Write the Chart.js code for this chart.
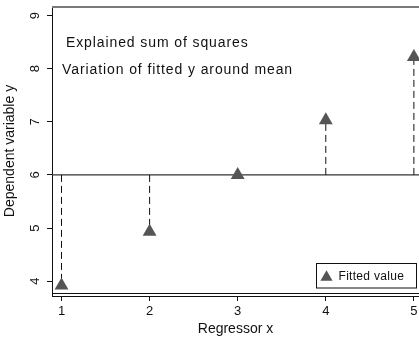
<!DOCTYPE html>
<html>
<head>
<meta charset="utf-8">
<script src="https://cdn.jsdelivr.net/npm/chart.js@4"></script>
<style>
  html, body { margin: 0; padding: 0; background: #fff; }
  #wrap { width: 419px; height: 339px; position: relative; }
</style>
</head>
<body>
<div id="wrap"><canvas id="c" width="419" height="339"></canvas></div>
<script>
// ---- data ----
const categories = [1, 2, 3, 4, 5];
const fittedValues = [3.92, 4.93, 6.0, 7.03, 8.22];
const meanY = 6;
const xTickValues = [1, 2, 3, 4, 5];
const yTickValues = [4, 5, 6, 7, 8, 9];
const seriesLabel = 'Fitted value';
const xTitle = 'Regressor x';
const yTitle = 'Dependent variable y';
const noteLines = ['Explained sum of squares', 'Variation of fitted y around mean'];

// ---- scale ranges ----
const X_MIN = 0.892, X_MAX = 5.058;
const Y_MIN = 3.72, Y_MAX = 9.18;

const FONT = '"Liberation Sans", Arial, sans-serif';
const MARK = '#555555';

const datasets = [];
datasets.push({
  type: 'line',
  label: 'mean',
  data: [{x: X_MIN, y: meanY}, {x: X_MAX, y: meanY}],
  borderColor: '#333333',
  borderWidth: 1.2,
  pointRadius: 0,
  fill: false,
  order: 3
});
categories.forEach((c, i) => {
  datasets.push({
    type: 'line',
    label: 'seg' + c,
    data: [{x: c, y: meanY}, {x: c, y: fittedValues[i]}],
    borderColor: '#111111',
    borderWidth: 1,
    borderDash: [7, 4],
    pointRadius: 0,
    fill: false,
    order: 2
  });
});
datasets.push({
  type: 'scatter',
  label: seriesLabel,
  data: categories.map((c, i) => ({x: c, y: fittedValues[i]})),
  pointStyle: 'triangle',
  pointRadius: 8,
  pointHoverRadius: 8,
  backgroundColor: MARK,
  borderColor: MARK,
  borderWidth: 0,
  clip: false,
  order: 1
});

const decorPlugin = {
  id: 'decor',
  beforeDatasetsDraw(chart) {
    const {ctx, chartArea: a} = chart;
    ctx.save();
    ctx.strokeStyle = '#7a7a7a';
    ctx.lineWidth = 2;
    ctx.beginPath();
    ctx.moveTo(a.left, a.top + 1);
    ctx.lineTo(a.right, a.top + 1);
    ctx.stroke();
    ctx.strokeStyle = '#111';
    ctx.lineWidth = 1;
    ctx.beginPath();
    ctx.moveTo(a.left, a.bottom - 2.5);
    ctx.lineTo(a.right, a.bottom - 2.5);
    ctx.stroke();
    ctx.restore();
  },
  afterDraw(chart) {
    const {ctx, scales} = chart;
    const xs = scales.x, ys = scales.y;
    ctx.save();
    ctx.fillStyle = '#111';
    ctx.font = '13px ' + FONT;
    ctx.textAlign = 'center';
    ctx.textBaseline = 'middle';
    ys.ticks.forEach(t => {
      const py = ys.getPixelForValue(t.value);
      ctx.save();
      ctx.translate(35, py);
      ctx.rotate(-Math.PI / 2);
      ctx.fillText(String(t.value), 0, 0);
      ctx.restore();
    });
    ctx.font = '14px ' + FONT;
    ctx.letterSpacing = '0.9px';
    ctx.textAlign = 'left';
    ctx.textBaseline = 'middle';
    ctx.fillText(noteLines[0], xs.getPixelForValue(1.05), ys.getPixelForValue(8.49));
    ctx.fillText(noteLines[1], xs.getPixelForValue(1.006), ys.getPixelForValue(7.98));
    ctx.letterSpacing = '0px';
    const ds = chart.data.datasets.find(d => d.label === seriesLabel);
    const bx = 316.5, by = 263.5, bw = 100, bh = 24.5;
    ctx.fillStyle = '#fff';
    ctx.fillRect(bx, by, bw, bh);
    ctx.strokeStyle = '#111';
    ctx.lineWidth = 1;
    ctx.strokeRect(bx, by, bw, bh);
    const cx = bx + 10, cy = by + bh / 2 + 1.5, r = 7;
    ctx.fillStyle = ds.backgroundColor;
    ctx.beginPath();
    ctx.moveTo(cx, cy - r);
    ctx.lineTo(cx + r * Math.sin(2 * Math.PI / 3), cy - r * Math.cos(2 * Math.PI / 3));
    ctx.lineTo(cx + r * Math.sin(4 * Math.PI / 3), cy - r * Math.cos(4 * Math.PI / 3));
    ctx.closePath();
    ctx.fill();
    ctx.fillStyle = '#111';
    ctx.font = '12px ' + FONT;
    ctx.letterSpacing = '0.3px';
    ctx.textAlign = 'left';
    ctx.textBaseline = 'middle';
    ctx.fillText(ds.label, bx + 22, by + bh / 2 + 0.5);
    ctx.restore();
  }
};

new Chart(document.getElementById('c'), {
  type: 'scatter',
  data: { datasets },
  options: {
    responsive: false,
    animation: false,
    events: [],
    layout: { autoPadding: false, padding: { top: 6, right: 0, left: 0, bottom: 0 } },
    plugins: {
      legend: { display: false },
      tooltip: { enabled: false }
    },
    scales: {
      x: {
        type: 'linear',
        min: X_MIN,
        max: X_MAX,
        afterBuildTicks: s => { s.ticks = xTickValues.map(v => ({value: v})); },
        afterFit: s => { s.height = 43; s.paddingLeft = 0; s.paddingRight = 0; },
        border: { display: true, color: '#111', width: 1 },
        grid: { drawOnChartArea: false, drawTicks: true, tickLength: 5, color: '#111', tickColor: '#111' },
        ticks: { color: '#111', font: { family: FONT, size: 13 }, padding: 3, maxRotation: 0, minRotation: 0 },
        title: { display: true, text: xTitle, color: '#111', font: { family: FONT, size: 14 }, padding: { top: 0, bottom: 1 } }
      },
      y: {
        type: 'linear',
        min: Y_MIN,
        max: Y_MAX,
        afterBuildTicks: s => { s.ticks = yTickValues.map(v => ({value: v})); },
        afterFit: s => { s.width = 52; s.paddingTop = 0; s.paddingBottom = 0; },
        border: { display: true, color: '#111', width: 1 },
        grid: { drawOnChartArea: false, drawTicks: true, tickLength: 5, color: '#111', tickColor: '#111' },
        ticks: { display: false },
        title: { display: true, text: yTitle, color: '#111', font: { family: FONT, size: 14 }, padding: { top: 2, bottom: 0 } }
      }
    }
  },
  plugins: [decorPlugin]
});
</script>
</body>
</html>
